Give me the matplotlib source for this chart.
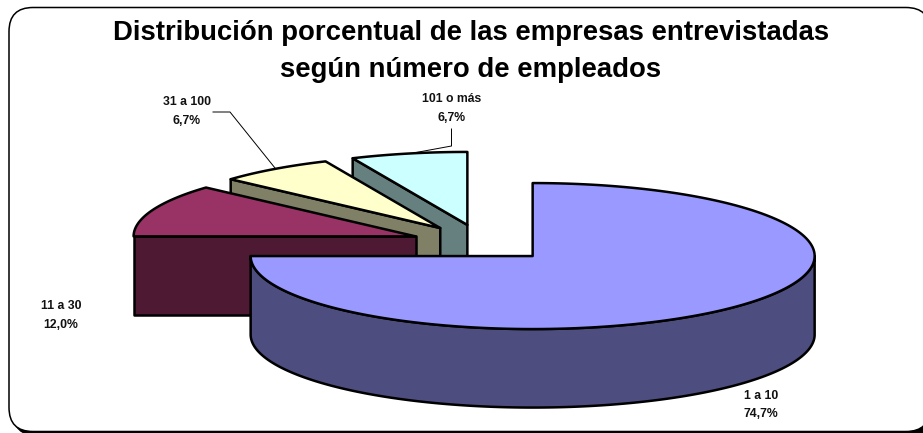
#!/usr/bin/env python
import numpy as np
import matplotlib
matplotlib.use('Agg')
import matplotlib.pyplot as plt
from matplotlib.patches import FancyBboxPatch

categories = ['1 a 10', '11 a 30', '31 a 100', '101 o más']
percentages = [74.7, 12.0, 6.7, 6.7]
top_colors = ['#9999FF', '#993366', '#FFFFCC', '#CCFFFF']
side_colors = ['#4D4D80', '#4D1933', '#808066', '#668080']
title_lines = ['Distribución porcentual de las empresas entrevistadas',
               'según número de empleados']

# pie geometry in pixels
CX, CY = 482.2, 243.0
RX, RY = 282.0, 73.0
DEPTH = 78.5
EXPLODE = 0.253
EDGE_LW = 1.8


def rim_point(angle, cx, cy):
    """ Point on the ellipse, angle in degrees clockwise from 12 o'clock. """
    rad = np.radians(angle)
    return cx + RX * np.sin(rad), cy - RY * np.cos(rad)


def draw_slice(ax, start, stop, top_color, side_color):
    """ Draws one exploded slice: front rim, cut face and top. """
    mid = (start + stop) / 2.0
    mx, my = rim_point(mid, CX, CY)
    cx = CX + (mx - CX) * EXPLODE
    cy = CY + (my - CY) * EXPLODE
    style = dict(edgecolor='black', lw=EDGE_LW, joinstyle='round')

    # only the part of the rim between 90 and 270 degrees faces the viewer
    rim_start, rim_stop = max(start, 90.0), min(stop, 270.0)
    if rim_start < rim_stop:
        x, y = rim_point(np.linspace(rim_start, rim_stop, 200), cx, cy)
        ax.fill(np.r_[x, x[::-1]], np.r_[y, y[::-1] + DEPTH],
                facecolor=side_color, **style)

    # back slices show the cut face on their left side
    if start >= 180.0:
        sx, sy = rim_point(start, cx, cy)
        ax.fill([sx, cx, cx, sx], [sy, cy, cy + DEPTH, sy + DEPTH],
                facecolor=side_color, **style)

    x, y = rim_point(np.linspace(start, stop, 200), cx, cy)
    ax.fill(np.r_[cx, x], np.r_[cy, y], facecolor=top_color, **style)


plt.rcParams['font.family'] = ['Liberation Sans', 'DejaVu Sans']
fig = plt.figure(figsize=(9.23, 4.33), dpi=100)
ax = fig.add_axes([0, 0, 1, 1])
ax.set_xlim(0, 923)
ax.set_ylim(433, 0)
ax.axis('off')

# frame with a small drop shadow, runs off the right side
box = 'round,pad=0,rounding_size=24'
ax.add_patch(FancyBboxPatch((13, 11.5), 921, 424, boxstyle=box,
                            facecolor='black', edgecolor='black', lw=1.0))
ax.add_patch(FancyBboxPatch((9, 7.5), 921, 424, boxstyle=box,
                            facecolor='white', edgecolor='black', lw=1.1))

# slice edges snapped to 3 degree steps, keeps the closing edge level
edges = np.r_[0, np.cumsum(percentages)] / sum(percentages) * 360.0
edges = np.round(edges / 3.0) * 3.0
for i in [3, 2, 1, 0]:
    draw_slice(ax, edges[i], edges[i + 1], top_colors[i], side_colors[i])

# leader lines
ax.plot([213, 230, 275], [112, 112, 168], color='black', lw=0.7)
ax.plot([451.5, 451.5, 416], [129, 146, 152.5], color='black', lw=0.7)

for line, y in zip(title_lines, [33, 70]):
    ax.text(471, y, line, ha='center', va='center', fontsize=19.8, fontweight='bold')

label_pos = [(761, 405), (61, 315.5), (187, 111.5), (452, 108.5)]
for name, value, (x, y) in zip(categories, percentages, label_pos):
    text = '%s\n%s%%' % (name, ('%.1f' % value).replace('.', ','))
    ax.text(x, y, text, ha='center', va='center', fontsize=8.8, fontweight='bold',
            linespacing=1.7, color='#111111')

fig.savefig('out.png', dpi=100)
